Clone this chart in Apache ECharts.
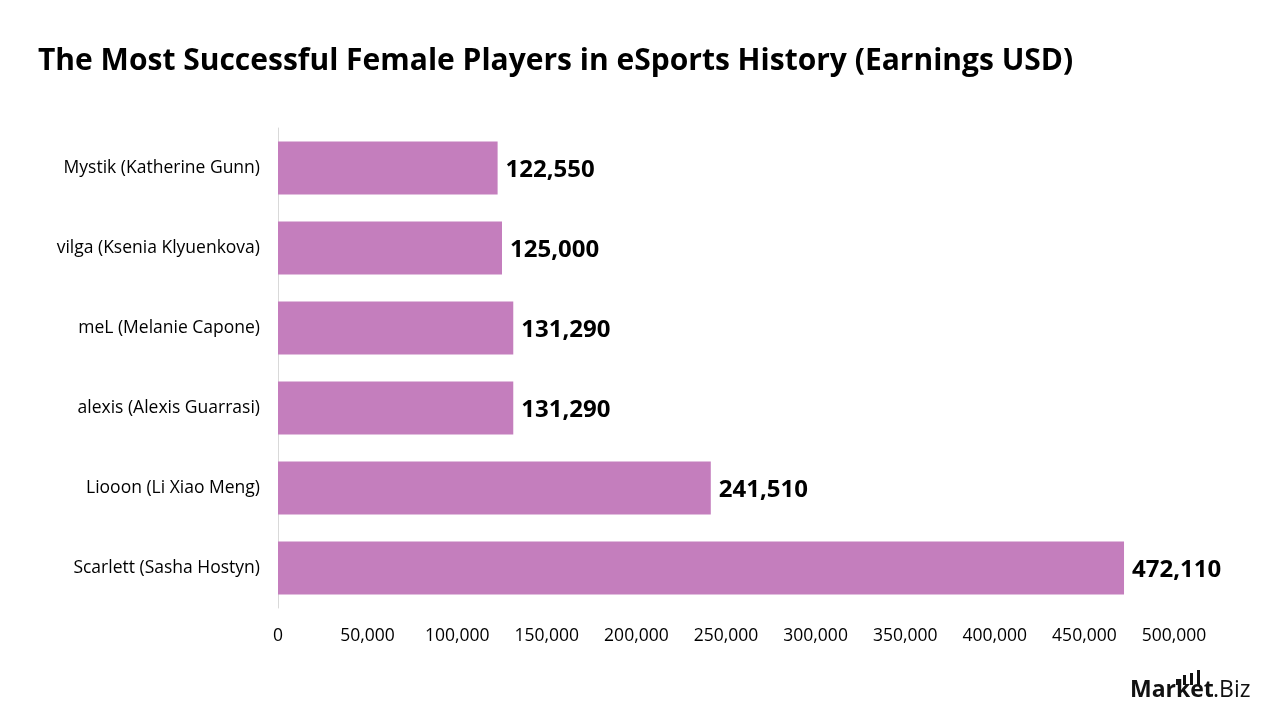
<!DOCTYPE html>
<html><head><meta charset="utf-8">
<script src="https://cdn.jsdelivr.net/npm/echarts@6/dist/echarts.min.js"></script>
<style>html,body{margin:0;padding:0;background:#fff}#c{width:1280px;height:720px}</style>
</head><body><div id="c"></div>
<script>
const categories = ["Scarlett (Sasha Hostyn)","Liooon (Li Xiao Meng)","alexis (Alexis Guarrasi)","meL (Melanie Capone)","vilga (Ksenia Klyuenkova)","Mystik (Katherine Gunn)"];
const earnings = [472110, 241510, 131290, 131290, 125000, 122550];
const chartTitle = "The Most Successful Female Players in eSports History (Earnings USD)";
const FONT = "'Open Sans', 'Noto Sans', sans-serif";
const chart = echarts.init(document.getElementById('c'));
chart.setOption({
  animation:false,
  backgroundColor:'#fff',
  title:{text:chartTitle,left:33,top:41,textStyle:{fontFamily:FONT,fontSize:30,fontWeight:'bold',color:'#000'}},
  grid:{left:278,right:106,top:128,bottom:112,containLabel:false},
  xAxis:{type:'value',min:0,max:500000,interval:50000,
    axisLine:{show:false},axisTick:{show:false},splitLine:{show:false},
    axisLabel:{margin:19,fontFamily:FONT,fontSize:17.5,color:'#000',formatter:v=>v.toLocaleString('en-US')}},
  yAxis:{type:'category',data:categories,
    axisLine:{show:true,lineStyle:{color:'#d9d9d9',width:1}},axisTick:{show:false},
    axisLabel:{margin:18,fontFamily:FONT,fontSize:17.5,color:'#000'}},
  series:[{type:'bar',data:earnings,barCategoryGap:'34%',
    itemStyle:{color:'#C47EBD'},
    label:{show:true,position:'right',distance:8,fontFamily:FONT,fontSize:24,fontWeight:'bold',color:'#000',
      offset:[0,2],
      formatter:p=>p.value.toLocaleString('en-US')}}],
  graphic:[
    {type:'text',left:1130,top:679,style:{text:'Market',fontFamily:FONT,fontSize:23,fontWeight:'bold',fill:'#111'}},
    {type:'text',left:1213,top:679,style:{text:'.Biz',fontFamily:FONT,fontSize:23,fill:'#111'}},
    {type:'rect',shape:{x:1176,y:679,width:3,height:6},style:{fill:'#111'}},
    {type:'rect',shape:{x:1183,y:675,width:3,height:10},style:{fill:'#111'}},
    {type:'rect',shape:{x:1190,y:673,width:3,height:12},style:{fill:'#111'}},
    {type:'rect',shape:{x:1197,y:670,width:3,height:15},style:{fill:'#111'}}
  ]
});
</script></body></html>
